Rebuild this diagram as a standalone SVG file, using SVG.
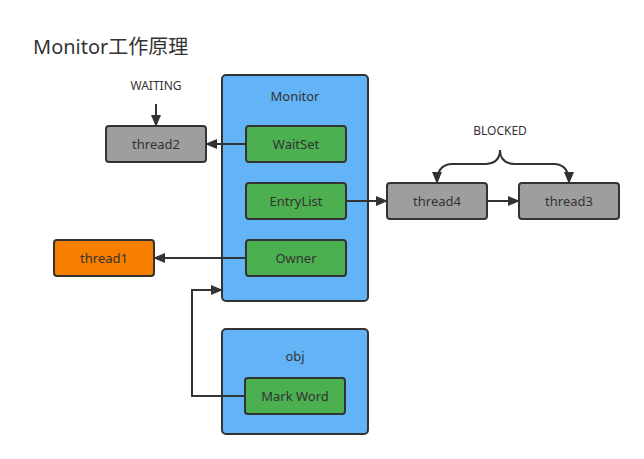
<svg xmlns="http://www.w3.org/2000/svg" width="644" height="459" viewBox="0 0 644 459">
<style>
text{font-family:"Noto Sans","Noto Sans CJK SC",sans-serif;fill:#333;text-anchor:middle}
.n{stroke:#333;stroke-width:2}
.c{fill:#62b4f6}
.g{fill:#4caf50}
.gr{fill:#9e9e9e}
.o{fill:#f77f00}
.l{font-size:13px}
.e{stroke:#333;stroke-width:2;fill:none;marker-end:url(#a)}
</style>
<defs>
<marker id="a" markerUnits="userSpaceOnUse" markerWidth="12" markerHeight="10" refX="11" refY="5" orient="auto">
<path d="M0,0 L12,5 L0,10 z" fill="#333"/>
</marker>
</defs>
<rect width="644" height="459" fill="#fff"/>
<text x="33" y="54" style="font-size:20px;text-anchor:start">Monitor工作原理</text>
<g id="monitor"><rect class="n c" x="222" y="75" width="146" height="226" rx="4"/><text class="l" x="295" y="101">Monitor</text></g>
<g id="waitset"><rect class="n g" x="246" y="126" width="100" height="36" rx="3"/><text class="l" x="296" y="148.5">WaitSet</text></g>
<g id="entrylist"><rect class="n g" x="246" y="183" width="100" height="36" rx="3"/><text class="l" x="296" y="205.5">EntryList</text></g>
<g id="owner"><rect class="n g" x="246" y="240" width="100" height="36" rx="3"/><text class="l" x="296" y="262.5">Owner</text></g>
<g id="obj"><rect class="n c" x="222" y="329" width="146" height="105" rx="4"/><text class="l" x="295" y="361">obj</text></g>
<g id="markword"><rect class="n g" x="245" y="378" width="100" height="36" rx="3"/><text class="l" x="295" y="400.5">Mark Word</text></g>
<g id="thread2"><rect class="n gr" x="106" y="126" width="100" height="36" rx="3"/><text class="l" x="156" y="148.5">thread2</text></g>
<g id="thread1"><rect class="n o" x="54" y="240" width="100" height="36" rx="3"/><text class="l" x="104" y="262.5">thread1</text></g>
<g id="thread4"><rect class="n gr" x="387" y="183" width="100" height="36" rx="3"/><text class="l" x="437" y="205.5">thread4</text></g>
<g id="thread3"><rect class="n gr" x="519" y="183" width="100" height="36" rx="3"/><text class="l" x="569" y="205.5">thread3</text></g>
<g id="labels">
<text x="156" y="90" style="font-size:12px">WAITING</text>
<text x="500" y="135" style="font-size:12px">BLOCKED</text>
</g>
<g id="connectors">
<path class="e" d="M156,104 L156,126"/>
<path class="e" d="M246,144 L206,144"/>
<path class="e" d="M346,201 L387,201"/>
<path class="e" d="M487,201 L519,201"/>
<path class="e" d="M246,258 L154,258"/>
<path class="e" d="M245,396 L192,396 L192,290 L222,290"/>
<path class="e" d="M500,150 Q500,163 486,164 L451,164 Q437,165 437,183"/>
<path class="e" d="M500,150 Q500,163 514,164 L555,164 Q569,165 569,183"/>
</g>
</svg>
